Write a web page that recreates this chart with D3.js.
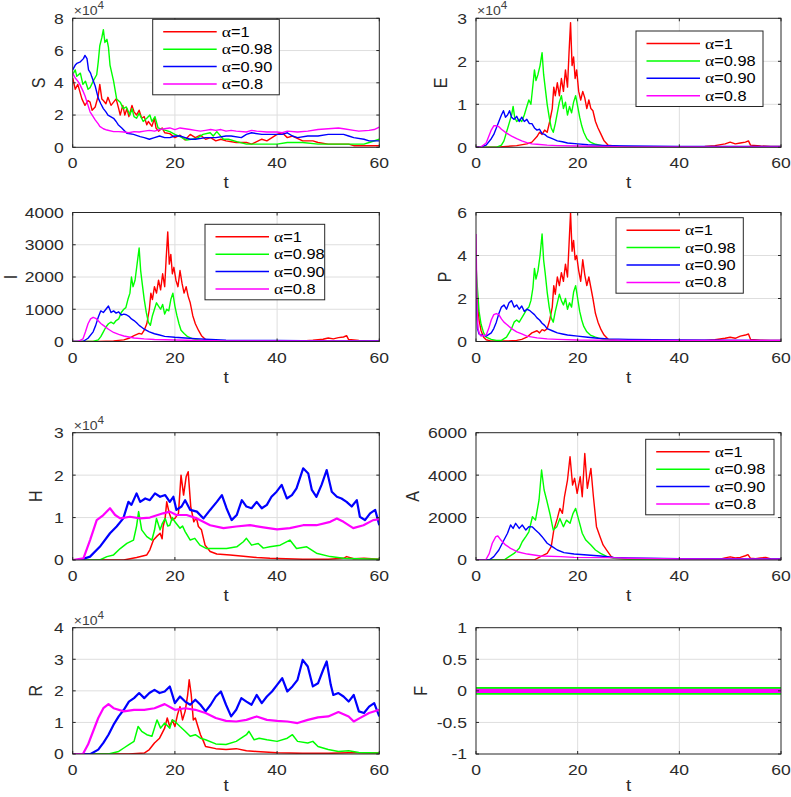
<!DOCTYPE html>
<html><head><meta charset="utf-8">
<script src="https://cdn.jsdelivr.net/npm/d3@7"></script>
<style>body{margin:0;background:#fff}</style>
</head><body><svg id="c" width="791" height="797"></svg>
<script>
// ---------- data ----------
const tTicks = [0, 20, 40, 60];
const legendLabels = ["=1", "=0.98", "=0.90", "=0.8"];
const seriesColors = ["#ff0000", "#00ff00", "#0000ff", "#ff00ff"];

// S (x10^4)
const S_r = [[0,4.3],[0.5,3.6],[1,3.9],[1.4,3.45],[1.8,3.0],[2.4,2.6],[3,2.9],[3.4,2.8],[3.8,2.3],[4.4,2.5],[5,3.2],[5.3,3.9],[5.7,3.0],[6,2.9],[6.5,2.7],[6.9,3.1],[7.5,2.6],[8,2.8],[8.5,3.0],[9,2.4],[9.3,2.0],[9.8,2.6],[10.2,2.0],[10.6,2.4],[11,1.9],[11.6,2.6],[12,2.2],[12.5,2.0],[13,2.3],[13.5,1.8],[14,1.9],[14.5,1.4],[14.8,1.6],[15.5,1.3],[16,1.8],[16.3,1.2],[16.8,1.0],[17.5,1.2],[18,0.9],[19,0.85],[20,0.6],[21,0.75],[22,0.45],[23,0.8],[24,0.6],[25,0.75],[26,0.5],[27,0.6],[28,0.4],[29,0.5],[30,0.4],[32,0.3],[34,0.3],[35,0.2],[37,0.5],[38,0.4],[40,0.8],[41,0.9],[42,0.6],[43,0.7],[45,0.4],[47,0.4],[48,0.3],[50,0.2],[52,0.2],[54,0.2],[55,0.1],[58,0.1],[60,0.1]];
const S_g = [[0,4.5],[0.5,4.8],[0.8,4.4],[1.5,4.6],[2,3.9],[2.5,4.1],[3,3.6],[3.4,3.7],[4,4.1],[4.7,4.5],[5,5.3],[5.3,6.3],[5.7,6.8],[6,7.3],[6.3,6.5],[6.7,6.7],[7,6.2],[7.3,5.1],[8,4.1],[8.6,3.0],[9.3,2.8],[9.9,2.4],[10.5,2.5],[11.2,2.0],[11.6,2.4],[12,1.9],[12.5,1.8],[13,2.1],[13.8,1.6],[14.5,1.8],[15.1,2.0],[15.5,1.6],[16.1,1.9],[16.7,1.2],[17.7,1.1],[19,0.97],[20,0.8],[21,0.66],[22.3,0.45],[24.3,0.55],[25.5,0.8],[26.9,0.9],[27.5,0.7],[28.2,0.97],[29.5,0.5],[30.5,0.5],[32.1,0.35],[34,0.2],[36,0.2],[38,0.2],[40,0.2],[42,0.3],[45,0.3],[48,0.2],[50,0.2],[53,0.2],[55,0.2],[57,0.2],[58,0.3],[60,0.5]];
const S_b = [[0,4.8],[0.5,5.1],[0.8,5.2],[1.5,5.3],[2.1,5.5],[2.4,5.7],[2.8,5.5],[3.1,4.8],[3.5,4.6],[3.7,4.4],[4.4,3.8],[5,3.05],[5.5,2.7],[6,2.4],[6.5,2.2],[6.9,2.0],[8,1.8],[8.5,1.6],[8.9,1.4],[9.6,1.2],[10.6,0.87],[11.9,0.8],[13.2,0.66],[14,0.6],[15,0.5],[16,0.6],[17,0.7],[18,0.6],[19,0.6],[20,0.7],[21,0.7],[22,0.6],[23,0.5],[24,0.5],[26,0.6],[28,0.6],[30,0.7],[31,0.7],[33,0.6],[34,0.8],[35,0.9],[37,0.8],[38,0.8],[40,0.8],[41,0.8],[42,0.9],[43,0.7],[44,0.6],[46,0.7],[48,0.7],[50,0.8],[52,0.8],[53,0.8],[54,0.7],[55,0.6],[57,0.5],[58,0.4],[60,0.4]];
const S_m = [[0,4.6],[0.5,4.3],[1,4.1],[1.4,3.9],[2,3.5],[2.4,3.2],[3,2.6],[3.4,2.2],[4,1.9],[4.4,1.7],[5,1.45],[5.3,1.3],[6,1.15],[6.7,1.07],[8,0.97],[9,0.97],[10,0.95],[11,0.9],[12,0.97],[13,0.95],[14,1.0],[15,1.05],[16,1.0],[17,1.1],[18,1.15],[19,1.2],[20,1.1],[21,1.2],[22,1.15],[23,1.1],[24,1.05],[25,1.0],[26,1.05],[27,1.1],[28,1.05],[29,1.1],[30,1.0],[31,1.05],[32,1.0],[34,0.95],[35,1.05],[36,1.0],[38,0.95],[40,0.95],[41,0.9],[42,1.0],[44,0.95],[46,1.0],[48,1.1],[50,1.15],[52,1.2],[53,1.15],[55,1.05],[56,1.0],[58,1.05],[59,1.1],[60,1.25]];

// E (x10^4)
const E_r = [[0,0],[4,0],[6,0.02],[8,0.04],[10,0.08],[11,0.12],[12,0.25],[12.5,0.35],[13,0.3],[13.5,0.4],[14,0.35],[14.5,0.6],[15,0.9],[15.3,1.4],[15.6,1.2],[16,1.5],[16.4,1.2],[16.8,1.6],[17.2,1.3],[17.6,1.8],[18,1.4],[18.3,2.2],[18.6,2.9],[18.9,1.9],[19.2,2.1],[19.5,1.6],[19.8,1.8],[20.2,1.3],[20.6,1.1],[21,1.3],[21.4,1.15],[21.8,0.9],[22.2,1.1],[22.6,0.9],[23,0.85],[23.5,0.6],[24,0.45],[24.6,0.3],[25.2,0.15],[26,0.05],[28,0.02],[40,0.01],[45,0.02],[47,0.04],[49,0.08],[50,0.12],[51,0.08],[52,0.1],[53,0.12],[53.6,0.15],[54,0.05],[56,0.03],[58,0.02],[60,0.02]];
const E_g = [[0,0],[4,0],[5,0.05],[5.5,0.15],[6,0.35],[6.5,0.55],[7,0.75],[7.3,0.95],[7.6,0.7],[8,0.6],[8.5,0.65],[9,0.6],[9.5,0.75],[10,0.95],[10.4,1.1],[10.8,1.0],[11.2,1.45],[11.5,1.8],[11.8,1.55],[12.2,1.7],[12.6,1.9],[13,2.2],[13.3,1.7],[13.6,1.4],[14,1.0],[14.4,0.7],[14.8,0.45],[15.2,0.35],[15.6,0.55],[16,0.8],[16.4,1.05],[16.8,1.2],[17.2,0.9],[17.6,1.05],[18,0.75],[18.4,0.95],[18.8,0.8],[19.2,1.05],[19.6,1.2],[20,0.95],[20.4,0.7],[20.8,0.5],[21.2,0.35],[21.8,0.2],[22.5,0.12],[23.5,0.07],[25,0.03],[27,0.01],[60,0.01]];
const E_b = [[0,0],[1,0.01],[2,0.05],[3,0.2],[3.5,0.3],[4,0.45],[4.5,0.6],[5,0.75],[5.4,0.85],[5.8,0.7],[6.2,0.75],[6.6,0.85],[7,0.7],[7.5,0.65],[8,0.72],[8.5,0.6],[9,0.7],[9.5,0.6],[10,0.65],[10.5,0.55],[11,0.55],[11.5,0.45],[12,0.4],[12.5,0.42],[13,0.32],[13.5,0.3],[14,0.25],[15,0.2],[16,0.15],[17,0.13],[18,0.1],[20,0.08],[22,0.06],[24,0.05],[26,0.04],[30,0.03],[40,0.02],[50,0.02],[60,0.02]];
const E_m = [[0,0],[1,0.01],[2,0.1],[2.5,0.25],[3,0.4],[3.5,0.5],[4,0.5],[4.5,0.48],[5,0.42],[6,0.33],[7,0.26],[8,0.2],[9,0.15],[10,0.11],[11,0.08],[12,0.07],[14,0.05],[16,0.04],[20,0.03],[25,0.02],[30,0.01],[60,0.01]];

// I
const I_r = [[0,0],[5,0],[8,20],[10,50],[11,100],[12,180],[13,250],[13.5,230],[14,350],[14.5,550],[15,1000],[15.3,1500],[15.6,1300],[16,1700],[16.4,1500],[16.8,1900],[17.2,1600],[17.6,2100],[18,1700],[18.3,2600],[18.6,3400],[18.9,2400],[19.2,2700],[19.5,2100],[19.8,2300],[20.2,1900],[20.6,1700],[21,2200],[21.4,1800],[21.8,1500],[22.2,1700],[22.6,1400],[23,1200],[23.5,800],[24,550],[24.6,350],[25.2,180],[26,60],[28,25],[40,15],[45,20],[47,40],[49,70],[50,110],[51,80],[52,120],[53,140],[53.6,180],[54,60],[56,30],[58,20],[60,20]];
const I_g = [[0,0],[4,0],[5,50],[5.5,150],[6,300],[6.5,450],[7,550],[7.5,600],[8,550],[8.5,650],[9,700],[9.5,900],[10,1000],[10.4,1050],[10.8,1300],[11.2,1500],[11.5,2000],[11.8,1700],[12.2,1900],[12.6,2400],[13,2900],[13.3,2200],[13.6,1800],[14,1300],[14.4,900],[14.8,600],[15.2,500],[15.6,800],[16,1000],[16.4,1200],[16.8,1100],[17.2,1000],[17.6,1150],[18,850],[18.4,1000],[18.8,950],[19.2,1300],[19.6,1500],[20,1100],[20.4,800],[20.8,550],[21.2,350],[21.8,250],[22.5,150],[23.5,80],[25,40],[27,15],[60,10]];
const I_b = [[0,0],[2,0],[3,100],[4,300],[4.5,500],[5,750],[5.5,950],[6,900],[6.5,1000],[7,1100],[7.5,900],[8,950],[8.5,880],[9,920],[9.5,820],[10,850],[10.5,830],[11,780],[11.5,700],[12,650],[12.5,580],[13,500],[13.5,440],[14,380],[15,300],[16,240],[17,200],[18,160],[20,130],[22,110],[24,90],[26,70],[30,40],[40,30],[50,20],[60,20]];
const I_m = [[0,0],[1,0],[2,80],[2.5,300],[3,550],[3.5,700],[4,750],[4.5,720],[5,640],[5.5,560],[6,500],[7,380],[8,280],[9,220],[10,170],[11,140],[12,110],[14,80],[16,60],[20,45],[25,30],[30,20],[60,10]];

// P
const P_r = [[0,2.7],[0.3,2.0],[0.6,1.0],[1,0.5],[1.5,0.2],[2,0.08],[3,0.02],[6,0.02],[8,0.05],[9,0.1],[10,0.2],[11,0.4],[12,0.5],[12.5,0.4],[13,0.55],[13.5,0.5],[14,0.6],[14.5,1.0],[15,1.6],[15.3,2.6],[15.6,2.2],[16,3.0],[16.4,2.6],[16.8,3.2],[17.2,2.8],[17.6,3.6],[18,3.0],[18.3,4.5],[18.6,6.0],[18.9,4.2],[19.2,4.7],[19.5,3.8],[19.8,4.0],[20.2,3.3],[20.6,2.8],[21,3.8],[21.4,3.1],[21.8,2.6],[22.2,3.0],[22.6,2.5],[23,2.0],[23.5,1.3],[24,0.9],[24.6,0.55],[25.2,0.3],[26,0.1],[28,0.05],[45,0.05],[47,0.08],[49,0.15],[50,0.2],[51,0.15],[52,0.25],[53,0.3],[53.6,0.35],[54,0.1],[56,0.06],[58,0.05],[60,0.05]];
const P_g = [[0,3.6],[0.3,2.4],[0.6,1.4],[1,0.8],[1.5,0.4],[2,0.2],[3,0.1],[4,0.05],[5,0.05],[6,0.2],[6.5,0.4],[7,0.6],[7.5,0.9],[8,1.0],[8.5,0.9],[9,1.1],[9.5,1.3],[10,1.5],[10.4,1.6],[10.8,1.9],[11.2,2.5],[11.5,3.4],[11.8,2.9],[12.2,3.3],[12.6,4.0],[13,5.0],[13.3,3.8],[13.6,3.2],[14,2.3],[14.4,1.6],[14.8,1.1],[15.2,0.9],[15.6,1.4],[16,1.8],[16.4,2.2],[16.8,1.9],[17.2,1.7],[17.6,2.0],[18,1.5],[18.4,1.8],[18.8,1.6],[19.2,2.3],[19.6,2.6],[20,2.0],[20.4,1.4],[20.8,1.0],[21.2,0.7],[21.8,0.45],[22.5,0.3],[23.5,0.2],[25,0.1],[27,0.05],[60,0.03]];
const P_b = [[0,2.3],[0.3,0.6],[0.6,0.35],[1,0.3],[2,0.25],[3,0.4],[3.5,0.6],[4,0.9],[4.5,1.3],[5,1.6],[5.5,1.7],[6,1.5],[6.5,1.8],[7,1.9],[7.5,1.6],[8,1.7],[8.5,1.5],[9,1.65],[9.5,1.4],[10,1.5],[10.5,1.45],[11,1.35],[11.5,1.25],[12,1.1],[12.5,1.0],[13,0.85],[13.5,0.75],[14,0.6],[15,0.5],[16,0.4],[17,0.35],[18,0.3],[20,0.25],[22,0.2],[24,0.15],[26,0.12],[30,0.1],[40,0.07],[60,0.05]];
const P_m = [[0,5.0],[0.2,1.5],[0.4,0.6],[0.7,0.35],[1,0.25],[2,0.3],[2.5,0.6],[3,1.0],[3.5,1.25],[4,1.3],[4.5,1.25],[5,1.05],[5.5,0.9],[6,0.8],[7,0.6],[8,0.45],[9,0.35],[10,0.25],[12,0.17],[14,0.12],[16,0.1],[20,0.07],[30,0.05],[60,0.05]];

// H (x10^4)
const H_r = [[0,0],[10,0],[12.5,0.06],[14.5,0.12],[15.1,0.24],[15.8,0.47],[16.4,0.55],[17.1,0.63],[17.5,0.5],[17.7,0.79],[18.1,1.0],[18.4,1.37],[18.9,1.1],[19.4,0.94],[20,0.98],[20.7,1.1],[21.2,2.0],[21.7,1.53],[22.2,1.96],[22.6,2.08],[23.1,1.26],[23.7,0.9],[24.2,1.0],[24.6,0.79],[25.2,0.71],[25.9,0.35],[26.9,0.2],[28.2,0.14],[30.8,0.12],[33.4,0.09],[36,0.06],[38.6,0.04],[45,0.02],[50,0.02],[53,0.04],[53.6,0.08],[55,0.03],[57,0.04],[60,0.02]];
const H_g = [[0,0],[5.3,0],[6.7,0.08],[8,0.12],[9.3,0.27],[10.6,0.39],[11.9,0.47],[12.5,0.8],[12.9,1.14],[13.5,0.71],[14.5,0.55],[15.5,0.47],[16,0.7],[16.4,0.98],[17.1,0.71],[17.5,0.85],[18.1,0.98],[18.6,0.8],[19,0.82],[19.5,1.0],[20,0.9],[21,0.75],[21.5,0.8],[22,0.67],[23,0.47],[23.9,0.51],[24.9,0.35],[26.2,0.27],[28.2,0.27],[30.1,0.27],[32.1,0.31],[33.4,0.43],[34,0.51],[35,0.35],[36.3,0.39],[37.3,0.28],[38.6,0.31],[40.6,0.35],[42.5,0.47],[43.8,0.27],[45.8,0.31],[47.7,0.16],[50.4,0.08],[53,0.04],[55.6,0.03],[60,0.02]];
const H_b = [[0,0],[1.4,0],[3.4,0.08],[5.3,0.31],[7.3,0.63],[8.6,0.79],[9.9,0.98],[10.9,1.37],[11.5,1.3],[12.5,1.57],[13.2,1.37],[14.2,1.45],[15.1,1.41],[16.1,1.57],[17.1,1.49],[18.1,1.53],[19,1.37],[19.7,1.49],[20.3,1.18],[21.3,1.26],[22,1.41],[23,1.18],[24.3,1.14],[25.6,0.98],[26.9,1.18],[28.2,1.37],[29.2,1.53],[30.1,1.22],[31.1,0.94],[32.1,1.06],[33.1,1.41],[34,1.26],[35,1.22],[36,1.37],[37,1.22],[38,1.3],[38.9,1.49],[39.9,1.61],[40.9,1.77],[41.9,1.45],[42.9,1.53],[43.8,1.69],[45.1,2.16],[46.1,2.04],[46.8,1.65],[47.7,1.49],[48.7,1.77],[49.7,2.12],[50.7,1.61],[51.7,1.49],[52.6,1.45],[53.6,1.37],[54.6,1.26],[55.6,1.41],[56.2,1.02],[57.2,0.94],[58.2,1.1],[59.2,1.18],[60,0.82]];
const H_m = [[0,0],[2.1,0.04],[3.4,0.47],[4.7,0.94],[6,1.06],[7.3,1.22],[8.3,1.06],[9.3,0.98],[11.2,1.02],[13.2,0.98],[15.1,1.0],[17.7,1.1],[19,1.14],[20.3,1.06],[22.3,1.06],[24.3,0.98],[26.9,0.82],[29.5,0.75],[32,0.79],[34.7,0.82],[37.3,0.77],[40,0.72],[42.5,0.75],[45.1,0.82],[47.7,0.82],[50.4,0.9],[51.7,0.98],[53,0.9],[54.9,0.75],[56.9,0.82],[58.8,0.94],[60,0.96]];

// A
const A_r = [[0,0],[11.4,0],[12.7,160],[14,310],[14.8,630],[15.3,1410],[16,1960],[16.5,2430],[17,2200],[17.4,2980],[18,3770],[18.5,4870],[19,3530],[19.4,3850],[19.9,3140],[20.5,3930],[20.9,2980],[21.4,5020],[21.9,3380],[22.6,4320],[23.1,2980],[23.7,1570],[24.4,1100],[25,710],[25.7,470],[26.5,190],[27.1,80],[30,50],[40,30],[46,30],[48,40],[49,100],[50,150],[51,100],[52,120],[53,200],[53.5,250],[54,80],[55,60],[56,100],[57,120],[58,50],[60,40]];
const A_g = [[0,0],[5.5,0],[6.5,160],[7.5,310],[8.5,550],[9.1,860],[9.8,1100],[10.4,1330],[11.1,2040],[11.7,1880],[12.4,2830],[12.9,4240],[13.4,3300],[13.9,2830],[14.6,2120],[15.2,1410],[15.9,1570],[16.5,1960],[17.2,1570],[17.8,1880],[18.5,1730],[19.1,2200],[19.6,2430],[20.3,1810],[20.9,1260],[21.6,940],[22.6,710],[23.5,470],[24.5,310],[25.8,160],[27.1,80],[30,40],[40,20],[60,20]];
const A_b = [[0,0],[2.6,0],[3.5,160],[4.5,470],[5.5,940],[6.2,1260],[6.8,1650],[7.3,1490],[7.8,1730],[8.5,1490],[9.1,1650],[9.8,1410],[10.4,1570],[11.1,1560],[11.7,1410],[12.4,1260],[13,1100],[14,790],[15,630],[16,470],[17.3,350],[19.3,280],[21.9,235],[24.5,190],[27.1,125],[30,100],[40,60],[60,50]];
const A_m = [[0,0],[1.9,0],[2.6,300],[3.2,790],[3.9,1100],[4.3,1130],[4.9,940],[5.8,710],[6.8,550],[8.1,390],[10.1,280],[12.7,190],[16.7,160],[19.3,125],[25.8,110],[30,80],[40,50],[60,40]];

// R (x10^4)
const R_r = [[0,0],[11,0],[14,0.03],[15,0.14],[16,0.35],[17,0.5],[18,0.82],[18.5,1.14],[19,0.87],[19.5,1.08],[20,0.87],[20.5,1.24],[21,1.5],[21.5,1.08],[22,1.35],[22.5,1.87],[22.8,2.35],[23.2,1.87],[23.6,1.08],[24,1.14],[24.5,0.87],[25,0.61],[25.6,0.4],[26,0.24],[28,0.17],[30,0.14],[32,0.17],[34,0.1],[36,0.08],[40,0.04],[45,0.02],[50,0.02],[54,0.04],[56,0.04],[60,0.03]];
const R_g = [[0,0],[7,0],[9,0.08],[10,0.19],[11,0.3],[12,0.4],[12.8,0.87],[13.5,0.72],[14.5,0.61],[15.5,0.56],[16.5,1.08],[17.2,0.82],[18,0.98],[19,0.82],[19.5,1.08],[20,1.03],[21,0.87],[22,0.72],[23,0.56],[24,0.61],[25,0.5],[26,0.45],[28,0.32],[30,0.3],[32,0.4],[34,0.61],[34.5,0.72],[35.5,0.45],[36.5,0.5],[38,0.45],[40,0.4],[42,0.5],[43,0.61],[44,0.4],[46,0.35],[47,0.4],[48,0.24],[50,0.14],[52,0.08],[54,0.1],[56,0.05],[60,0.03]];
const R_b = [[0,0],[3.5,0],[5,0.14],[6,0.35],[7,0.61],[8,0.93],[9,1.19],[10,1.4],[11,1.66],[12,1.77],[13,1.93],[14,1.77],[15,1.93],[16,2.03],[17,1.93],[18,1.98],[19,2.14],[20,1.61],[21,1.82],[22,1.66],[23,1.56],[24,1.72],[25,1.56],[26,1.35],[27,1.56],[28,1.82],[29,1.98],[30,1.56],[31,1.19],[32,1.4],[33,1.77],[34,1.66],[35,1.56],[36,1.87],[37,1.61],[38,1.82],[39,1.98],[40,2.19],[41,2.4],[42,1.98],[43,2.14],[44,2.35],[45,2.98],[46,2.77],[47,2.14],[48,2.24],[49,2.66],[49.7,2.93],[50.5,2.19],[51,1.87],[52,1.93],[53,1.82],[54,1.66],[55,1.87],[56,1.35],[57,1.3],[58,1.5],[59,1.61],[60,1.19]];
const R_m = [[0,0],[2,0],[3,0.3],[4,0.72],[5,1.14],[6,1.45],[7,1.58],[8,1.45],[10,1.35],[12,1.4],[14,1.4],[16,1.45],[18,1.58],[20,1.4],[22,1.45],[24,1.4],[26,1.3],[28,1.14],[30,1.05],[32,1.03],[34,1.08],[36,1.19],[38,1.08],[40,1.05],[42,1.03],[44,0.98],[46,1.08],[48,1.16],[50,1.19],[52,1.33],[54,1.19],[55,1.03],[56,1.12],[58,1.3],[60,1.4]];

// F
const F_r = [[0,0],[60,0]];
const F_g = [[0,0],[60,0]];
const F_b = [[0,0],[60,0]];
const F_m = [[0,0],[60,0]];

const S_ticks = [0,2,4,6,8], E_ticks = [0,1,2,3], I_ticks = [0,1000,2000,3000,4000], P_ticks = [0,2,4,6];
const H_ticks = [0,1,2,3], A_ticks = [0,2000,4000,6000], R_ticks = [0,1,2,3,4], F_ticks = [-1,-0.5,0,0.5,1];

// ---------- layout ----------
const cols = [[72.7, 379.3], [476, 781]];
const rows = [[18.3, 147.3, 41], [212.5, 341.5, 41], [432.7, 560, 41], [627.7, 754, 37]];
const panels = [
  {lab:"S", c:0, r:0, ticks:S_ticks, sci:true,  data:[S_r,S_g,S_b,S_m], lw:[1.4,1.4,1.4,1.4], leg:{x:152.7,y:19.3,w:126.6}, yo:34},
  {lab:"E", c:1, r:0, ticks:E_ticks, sci:true,  data:[E_r,E_g,E_b,E_m], lw:[1.4,1.4,1.4,1.4], leg:{x:636,y:31,w:127}, yo:36},
  {lab:"I", c:0, r:1, ticks:I_ticks, sci:false, data:[I_r,I_g,I_b,I_m], lw:[1.4,1.4,1.4,1.4], leg:{x:205,y:224.3,w:119.7}, yo:62},
  {lab:"P", c:1, r:1, ticks:P_ticks, sci:false, data:[P_r,P_g,P_b,P_m], lw:[1.4,1.4,1.4,1.4], leg:{x:616,y:217.7,w:127.3}, yo:32},
  {lab:"H", c:0, r:2, ticks:H_ticks, sci:true,  data:[H_r,H_g,H_b,H_m], lw:[1.5,1.5,2.2,2.2], leg:null, yo:37},
  {lab:"A", c:1, r:2, ticks:A_ticks, sci:false, data:[A_r,A_g,A_b,A_m], lw:[1.4,1.4,1.4,1.4], leg:{x:645.7,y:439.3,w:128.3}, yo:63.5},
  {lab:"R", c:0, r:3, ticks:R_ticks, sci:true,  data:[R_r,R_g,R_b,R_m], lw:[1.5,1.5,2.2,2.2], leg:null, yo:37},
  {lab:"F", c:1, r:3, ticks:F_ticks, sci:false, data:[F_r,F_g,F_b,F_m], lw:[6,7.7,3.4,4.3], leg:null, yo:56}
];

const SX = 1.17;
const FONT = "'Liberation Sans', Arial, Helvetica, sans-serif";
const svg = d3.select("#c");
svg.append("rect").attr("width",791).attr("height",797).attr("fill","#fff");

function txt(sel, x, y, s, o) {
  o = o || {};
  const t = sel.append("text")
    .attr("transform", `translate(${x},${y}) scale(${SX},1)` + (o.rot ? " rotate(-90)" : ""))
    .attr("font-family", FONT).attr("font-size", o.size || 15)
    .attr("fill", o.fill || "#2b2b2b").attr("text-anchor", o.anchor || "start");
  if (o.dy) t.attr("dy", o.dy);
  if (s !== null) t.text(s);
  return t;
}

panels.forEach((p, pi) => {
  const [x0, x1] = cols[p.c], [y0, y1, lo] = rows[p.r];
  const x = d3.scaleLinear().domain([0, 60]).range([x0, x1]);
  const y = d3.scaleLinear().domain([p.ticks[0], p.ticks[p.ticks.length-1]]).range([y1, y0]);
  const g = svg.append("g");

  // grid
  g.selectAll(null).data(tTicks.slice(1, -1)).join("line")
    .attr("x1", d => x(d)).attr("x2", d => x(d)).attr("y1", y0).attr("y2", y1)
    .attr("stroke", "#dedede").attr("stroke-width", 1);
  g.selectAll(null).data(p.ticks.slice(1, -1)).join("line")
    .attr("y1", d => y(d)).attr("y2", d => y(d)).attr("x1", x0).attr("x2", x1)
    .attr("stroke", "#dedede").attr("stroke-width", 1);

  // clip
  const cid = "clip" + pi;
  svg.append("clipPath").attr("id", cid).append("rect")
    .attr("x", x0).attr("y", y0).attr("width", x1 - x0).attr("height", y1 - y0);
  const line = d3.line().x(d => x(d[0])).y(d => y(d[1]));
  const lg = g.append("g").attr("clip-path", `url(#${cid})`);
  p.data.forEach((s, i) => {
    lg.append("path").attr("d", line(s)).attr("fill", "none")
      .attr("stroke", seriesColors[i]).attr("stroke-width", p.lw[i])
      .attr("stroke-linejoin", "round");
  });

  // box
  g.append("rect").attr("x", x0).attr("y", y0).attr("width", x1 - x0).attr("height", y1 - y0)
    .attr("fill", "none").attr("stroke", "#262626").attr("stroke-width", 1);

  // ticks (inward, both sides)
  const tl = 3;
  tTicks.forEach(t => {
    g.append("line").attr("x1", x(t)).attr("x2", x(t)).attr("y1", y1).attr("y2", y1 - tl).attr("stroke", "#262626");
    g.append("line").attr("x1", x(t)).attr("x2", x(t)).attr("y1", y0).attr("y2", y0 + tl).attr("stroke", "#262626");
    txt(g, x(t), y1 + 21, String(t), {anchor: "middle"});
  });
  p.ticks.forEach(v => {
    g.append("line").attr("x1", x0).attr("x2", x0 + tl).attr("y1", y(v)).attr("y2", y(v)).attr("stroke", "#262626");
    g.append("line").attr("x1", x1).attr("x2", x1 - tl).attr("y1", y(v)).attr("y2", y(v)).attr("stroke", "#262626");
    txt(g, x0 - 9, y(v), String(v), {anchor: "end", dy: "0.36em"});
  });

  // labels
  txt(g, (x0 + x1) / 2, y1 + lo, "t", {anchor: "middle", size: 16});
  txt(g, x0 - p.yo, (y0 + y1) / 2, p.lab, {anchor: "middle", size: 16, rot: true, dy: "0.36em"});
  if (p.sci) {
    const t = txt(g, x0 + 1, y0 - 3, null, {size: 12, fill: "#404040"});
    t.append("tspan").text("×10");
    t.append("tspan").attr("dy", -6).attr("font-size", 10).text("4");
  }

  // legend
  if (p.leg) {
    const L = p.leg, h = 75.5;
    const lgd = g.append("g");
    lgd.append("rect").attr("x", L.x).attr("y", L.y).attr("width", L.w).attr("height", h)
      .attr("fill", "#fff").attr("stroke", "#262626").attr("stroke-width", 1);
    legendLabels.forEach((lab, i) => {
      const yy = L.y + 12.5 + i * 17.4;
      lgd.append("line").attr("x1", L.x + 10.5).attr("x2", L.x + 64).attr("y1", yy).attr("y2", yy)
        .attr("stroke", seriesColors[i]).attr("stroke-width", 1.5);
      const t = txt(lgd, L.x + 69, yy, null, {size: 14, fill: "#000", dy: "0.36em"});
      t.append("tspan").attr("font-family", "'Liberation Serif', 'DejaVu Serif', serif").attr("font-size", 15).text("α");
      t.append("tspan").text(lab);
    });
  }
});
</script></body></html>
